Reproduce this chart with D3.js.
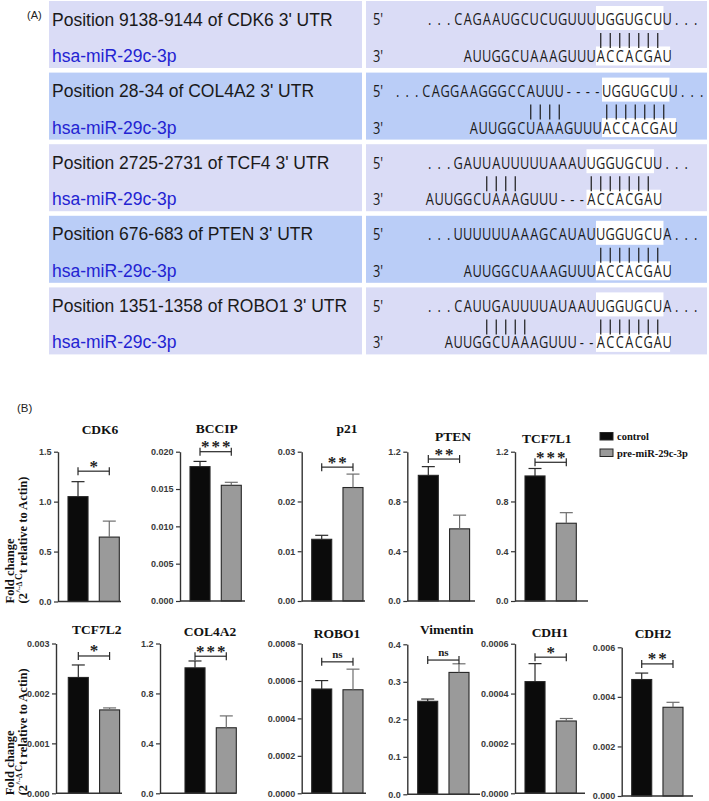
<!DOCTYPE html>
<html>
<head>
<meta charset="utf-8">
<script src="https://cdn.jsdelivr.net/npm/d3@7"></script>
<style>
  body { margin: 0; background: #fff; }
  svg { display: block; }
</style>
</head>
<body>
<script>
/* (A) predicted miR-29c-3p binding sites, (B) qPCR fold changes */

// ---- panel A data
var siteLabels = [
  "Position 9138-9144 of CDK6 3' UTR",
  "Position 28-34 of COL4A2 3' UTR",
  "Position 2725-2731 of TCF4 3' UTR",
  "Position 676-683 of PTEN 3' UTR",
  "Position 1351-1358 of ROBO1 3' UTR"
];
var mirLabel = 'hsa-miR-29c-3p';
var utrSeqs = [
  '...CAGAAUGCUCUGUUUUGGUGCUU...',
  '...CAGGAAGGGCCAUUU----UGGUGCUU...',
  '...GAUUAUUUUUAAAUUGGUGCUU...',
  '...UUUUUUAAAGCAUAUUGGUGCUA...',
  '...CAUUGAUUUUAUAAUUGGUGCUA...'
];
var mirSeqs = [
  'AUUGGCUAAAGUUUACCACGAU',
  'AUUGGCUAAAGUUUACCACGAU',
  'AUUGGCUAAAGUUU---ACCACGAU',
  'AUUGGCUAAAGUUUACCACGAU',
  'AUUGGCUAAAGUUU--ACCACGAU'
];
var mirStartCol = [4, 8, 0, 4, 2];
// [first column, number of pairs]
var pairRuns = [
  [[18, 7]],
  [[14, 4], [22, 7]],
  [[6, 4], [17, 7]],
  [[18, 7]],
  [[6, 5], [18, 7]]
];
var seedCol = [18, 22, 17, 18, 18];

// ---- panel B data
var genes = ['CDK6', 'BCCIP', 'p21', 'PTEN', 'TCF7L1',
             'TCF7L2', 'COL4A2', 'ROBO1', 'Vimentin', 'CDH1', 'CDH2'];
var groups = ['control', 'pre-miR-29c-3p'];
var controlMean = [1.05, 0.0180, 0.0124, 1.01, 1.005, 0.00232, 1.005, 0.000557, 0.248, 0.000448, 0.00470];
var controlErr  = [0.15, 0.0007, 0.0008, 0.07, 0.06, 0.00025, 0.055, 0.000045, 0.006, 0.000072, 0.00026];
var preMean     = [0.645, 0.0155, 0.0228, 0.58, 0.625, 0.00167, 0.525, 0.000553, 0.325, 0.00029, 0.00358];
var preErr      = [0.16, 0.0004, 0.0027, 0.11, 0.085, 0.00004, 0.095, 0.00011, 0.023, 0.00001, 0.0002];
var yMax    = [1.5, 0.020, 0.03, 1.2, 1.2, 0.003, 1.2, 0.0008, 0.4, 0.0006, 0.006];
var yStep   = [0.5, 0.005, 0.01, 0.4, 0.4, 0.001, 0.4, 0.0002, 0.1, 0.0002, 0.002];
var yFormat = ['.1f', '.3f', '.2f', '.1f', '.1f', '.3f', '.1f', '.4f', '.1f', '.4f', '.3f'];
var sigLabels = ['*', '***', '**', '**', '***', '*', '***', 'ns', 'ns', '*', '**'];
var sigLevel  = [1.305, 0.0200, 0.0269, 1.141, 1.115, 0.00275, 1.098, 0.000702, 0.358, 0.000546, 0.00533];

// ---- layout (positions only)
var axisX    = [58, 180, 301.7, 407.3, 515, 56, 160, 301.7, 407.3, 515, 621.7];
var barX     = [68, 190, 311.7, 418.3, 525, 68.3, 185, 311.7, 417.7, 525, 631.7];
var axisEnd  = [121, 245, 365, 475, 588, 122, 236, 366, 480, 585, 693];
var axisTop  = [451.7, 451.7, 451.7, 451.7, 451.7, 643.5, 643.5, 643.5, 644.3, 643.7, 647.3];
var axisBot  = [601.5, 601, 601, 601, 601, 793.3, 793.3, 793.3, 794.3, 793.3, 796];
var titleX   = [100, 216.7, 347, 453, 546.7, 96.7, 210, 337, 446.7, 550, 653];
var titleY   = [434, 433, 433, 441, 443, 634, 636, 638, 634, 637, 638];

var width = 709, height = 801;
var serif = "'Liberation Serif', 'Times New Roman', serif",
    sans = "'Liberation Sans', Arial, sans-serif",
    seqFont = "'Open Sans', 'Noto Sans', sans-serif";

var svg = d3.select('body').append('svg')
    .attr('width', width)
    .attr('height', height)
    .style('background', '#fff');

/* ===================== (A) ===================== */
var rowColors = ['#dadcf6', '#bacdf7'],
    rowH = 67,
    rowStride = 71.6,
    colW = 9.5,
    squeeze = 0.8;

svg.append('text')
    .attr('x', 27).attr('y', 19)
    .attr('font-family', sans).attr('font-size', 11)
    .attr('fill', '#222')
    .text('(A)');

siteLabels.forEach(function(label, i) {
  var top = 1 + i * rowStride,
      x0 = (i == 1) ? 393 : 425,
      col = d3.scaleLinear().domain([0, 1]).range([x0, x0 + colW]);

  var row = svg.append('g').attr('class', 'site-row');

  row.append('rect')
      .attr('x', 49).attr('y', top)
      .attr('width', 313).attr('height', rowH)
      .attr('fill', rowColors[i % 2]);
  row.append('rect')
      .attr('x', 366).attr('y', top)
      .attr('width', 341).attr('height', rowH)
      .attr('fill', rowColors[i % 2]);

  row.append('text')
      .attr('x', 52).attr('y', top + 24.5)
      .attr('font-family', sans).attr('font-size', 17.5)
      .attr('fill', '#1a1a1a')
      .text(label);
  row.append('text')
      .attr('x', 52).attr('y', top + 61)
      .attr('font-family', sans).attr('font-size', 17.5)
      .attr('fill', '#2323d2')
      .text(mirLabel);

  // white seed highlights
  row.append('rect')
      .attr('x', col(seedCol[i]))
      .attr('y', top + 5)
      .attr('width', col(seedCol[i] + 7.1) - col(seedCol[i]))
      .attr('height', 24)
      .attr('fill', '#fff');
  row.append('rect')
      .attr('x', col(seedCol[i]))
      .attr('y', top + 45.5)
      .attr('width', col(seedCol[i] + 7.8) - col(seedCol[i]))
      .attr('height', 19)
      .attr('fill', '#fff');

  var seq = row.append('g')
      .attr('transform', 'scale(' + squeeze + ',1)')
      .attr('font-family', seqFont)
      .attr('font-size', 16)
      .attr('fill', '#1a1a1a');

  seq.append('text')
      .attr('x', 373 / squeeze).attr('y', top + 24.5)
      .text("5'");
  seq.append('text')
      .attr('x', 373 / squeeze).attr('y', top + 61)
      .text("3'");

  seq.selectAll('text.utr')
      .data(utrSeqs[i].split(''))
      .enter().append('text')
      .attr('class', 'utr')
      .attr('text-anchor', 'middle')
      .attr('x', function(d, k) { return col(k + 0.5) / squeeze; })
      .attr('y', top + 24.5)
      .text(function(d) { return d; });

  seq.selectAll('text.mir')
      .data(mirSeqs[i].split(''))
      .enter().append('text')
      .attr('class', 'mir')
      .attr('text-anchor', 'middle')
      .attr('x', function(d, k) { return col(mirStartCol[i] + k + 0.5) / squeeze; })
      .attr('y', top + 61)
      .text(function(d) { return d; });

  // base-pair ticks
  var pairCols = [];
  pairRuns[i].forEach(function(r) {
    d3.range(r[0], r[0] + r[1]).forEach(function(c) { pairCols.push(c); });
  });
  row.selectAll('line.pair')
      .data(pairCols)
      .enter().append('line')
      .attr('class', 'pair')
      .attr('x1', function(d) { return col(d + 0.5); })
      .attr('x2', function(d) { return col(d + 0.5); })
      .attr('y1', top + 32)
      .attr('y2', top + 47)
      .attr('stroke', '#1a1a1a')
      .attr('stroke-width', 1.2);
});

/* ===================== (B) ===================== */
svg.append('text')
    .attr('x', 17).attr('y', 412)
    .attr('font-family', sans).attr('font-size', 11.5)
    .attr('fill', '#222')
    .text('(B)');

var barFill = { 'control': '#0b0b0b', 'pre-miR-29c-3p': '#9a9a9a' },
    errColor = { 'control': '#2a2a2a', 'pre-miR-29c-3p': '#6e6e6e' };

genes.forEach(function(gene, i) {
  var yScale = d3.scaleLinear()
      .domain([0, yMax[i]])
      .range([axisBot[i], axisTop[i]]);

  var xScale = d3.scaleBand()
      .domain(groups)
      .range([barX[i], barX[i] + 51.3])
      .paddingInner(0.36)
      .paddingOuter(0);

  var chart = svg.append('g').attr('class', 'chart');

  var rows = groups.map(function(g) {
    return g == 'control'
      ? { group: g, mean: controlMean[i], err: controlErr[i] }
      : { group: g, mean: preMean[i], err: preErr[i] };
  });

  chart.selectAll('rect.bar')
      .data(rows)
      .enter().append('rect')
      .attr('class', 'bar')
      .attr('x', function(d) { return xScale(d.group); })
      .attr('y', function(d) { return yScale(d.mean); })
      .attr('width', xScale.bandwidth())
      .attr('height', function(d) { return yScale(0) - yScale(d.mean); })
      .attr('fill', function(d) { return barFill[d.group]; })
      .attr('stroke', '#262626')
      .attr('stroke-width', 1.1);

  // upper error bars
  var errs = chart.selectAll('g.err')
      .data(rows)
      .enter().append('g')
      .attr('class', 'err')
      .attr('stroke', function(d) { return errColor[d.group]; })
      .attr('stroke-width', 1.2);
  errs.append('line')
      .attr('x1', function(d) { return xScale(d.group) + xScale.bandwidth() / 2; })
      .attr('x2', function(d) { return xScale(d.group) + xScale.bandwidth() / 2; })
      .attr('y1', function(d) { return yScale(d.mean); })
      .attr('y2', function(d) { return yScale(d.mean + d.err); });
  errs.append('line')
      .attr('x1', function(d) { return xScale(d.group) + xScale.bandwidth() / 2 - 6.5; })
      .attr('x2', function(d) { return xScale(d.group) + xScale.bandwidth() / 2 + 6.5; })
      .attr('y1', function(d) { return yScale(d.mean + d.err); })
      .attr('y2', function(d) { return yScale(d.mean + d.err); });

  // axes
  var yAxis = d3.axisLeft(yScale)
      .tickValues(d3.range(0, yMax[i] + yStep[i] / 2, yStep[i]))
      .tickFormat(d3.format(yFormat[i]))
      .tickSize(4)
      .tickSizeOuter(0)
      .tickPadding(2.5);

  var yGuide = chart.append('g')
      .attr('transform', 'translate(' + axisX[i] + ',0)')
      .call(yAxis);
  yGuide.select('.domain').attr('stroke', '#333').attr('stroke-width', 1.4);
  yGuide.selectAll('.tick line').attr('stroke', '#333').attr('stroke-width', 1.2);
  yGuide.selectAll('.tick text')
      .attr('font-family', sans)
      .attr('font-size', 9)
      .attr('font-weight', 'bold')
      .attr('fill', '#3a3a3a');

  chart.append('line')
      .attr('x1', axisX[i]).attr('x2', axisEnd[i])
      .attr('y1', yScale(0)).attr('y2', yScale(0))
      .attr('stroke', '#333')
      .attr('stroke-width', 1.5);

  // significance bracket
  var bx1 = xScale(groups[0]) + xScale.bandwidth() / 2,
      bx2 = xScale(groups[1]) + xScale.bandwidth() / 2,
      by = yScale(sigLevel[i]);
  var bracket = chart.append('g')
      .attr('stroke', '#262626')
      .attr('stroke-width', 1.2);
  bracket.append('line').attr('x1', bx1).attr('x2', bx2).attr('y1', by).attr('y2', by);
  bracket.append('line').attr('x1', bx1).attr('x2', bx1).attr('y1', by - 4).attr('y2', by + 4);
  bracket.append('line').attr('x1', bx2).attr('x2', bx2).attr('y1', by - 4).attr('y2', by + 4);

  if (sigLabels[i] == 'ns') {
    chart.append('text')
        .attr('x', (bx1 + bx2) / 2).attr('y', by - 4)
        .attr('text-anchor', 'middle')
        .attr('font-family', serif).attr('font-weight', 'bold')
        .attr('font-size', 11)
        .attr('fill', '#222')
        .text('ns');
  } else {
    chart.append('text')
        .attr('x', (bx1 + bx2) / 2 + 1).attr('y', by + 0.5)
        .attr('text-anchor', 'middle')
        .attr('font-family', serif).attr('font-weight', 'bold')
        .attr('font-size', 17)
        .attr('letter-spacing', 2)
        .attr('fill', '#222')
        .text(sigLabels[i]);
  }

  chart.append('text')
      .attr('x', titleX[i]).attr('y', titleY[i])
      .attr('text-anchor', 'middle')
      .attr('font-family', serif).attr('font-weight', 'bold')
      .attr('font-size', 13.5)
      .attr('fill', '#111')
      .text(gene);
});

// y-axis titles, one per row
[0, 5].forEach(function(i) {
  var lab = svg.append('text')
      .attr('transform', 'translate(14,' + (axisBot[i] + 2) + ') rotate(-90)')
      .attr('font-family', serif).attr('font-weight', 'bold')
      .attr('font-size', 12.5)
      .attr('fill', '#111');
  lab.append('tspan').attr('x', 0).attr('y', 0).text('Fold change');
  var l2 = lab.append('tspan').attr('x', 0).attr('y', 13);
  l2.text('(2');
  lab.append('tspan').attr('font-size', 7.5).attr('dy', -5).text('^-\u0394 ');
  lab.append('tspan').attr('font-size', 9.5).text('C');
  lab.append('tspan').attr('dy', 5).text('t relative to Actin)');
});

// legend
var legend = svg.append('g')
    .attr('font-family', serif)
    .attr('font-weight', 'bold')
    .attr('font-size', 10.5)
    .selectAll('g')
    .data(groups)
    .enter().append('g')
    .attr('transform', function(d, i) {
      return 'translate(600,' + (432.5 + i * 16.5) + ')';
    });

legend.append('rect')
    .attr('width', 13).attr('height', 7.5)
    .attr('fill', function(d) { return barFill[d]; })
    .attr('stroke', '#262626')
    .attr('stroke-width', 1);

legend.append('text')
    .attr('x', 17).attr('y', 7.5)
    .attr('fill', '#111')
    .text(function(d) { return d; });
</script>
</body>
</html>
